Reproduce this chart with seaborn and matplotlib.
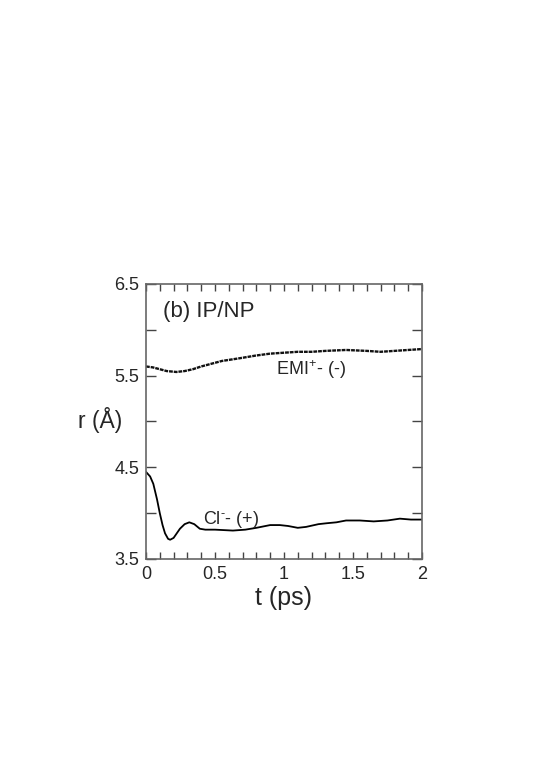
import matplotlib
matplotlib.use("Agg")
import matplotlib.pyplot as plt
import seaborn as sns
import pandas as pd
from matplotlib.ticker import MultipleLocator, FixedLocator

# ---- data ----
cl_t = [0, 0.03, 0.053, 0.08, 0.10, 0.12, 0.138, 0.16, 0.175, 0.20, 0.246, 0.28,
        0.314, 0.35, 0.39, 0.43, 0.5, 0.63, 0.72, 0.80, 0.90, 0.97, 1.03, 1.10,
        1.16, 1.25, 1.31, 1.38, 1.45, 1.55, 1.65, 1.75, 1.84, 1.92, 2.0]
cl_r = [4.45, 4.40, 4.32, 4.15, 4.00, 3.87, 3.78, 3.72, 3.71, 3.73, 3.83, 3.88,
        3.90, 3.88, 3.83, 3.82, 3.82, 3.81, 3.82, 3.84, 3.87, 3.87, 3.86, 3.84,
        3.85, 3.88, 3.89, 3.90, 3.92, 3.92, 3.91, 3.92, 3.94, 3.93, 3.93]

emi_t = [0, 0.05, 0.10, 0.15, 0.22, 0.28, 0.34, 0.40, 0.45, 0.55, 0.68, 0.80,
         0.90, 1.0, 1.1, 1.2, 1.3, 1.45, 1.6, 1.7, 1.8, 1.9, 2.0]
emi_r = [5.60, 5.59, 5.57, 5.55, 5.54, 5.55, 5.57, 5.60, 5.62, 5.66, 5.69, 5.72,
         5.74, 5.75, 5.76, 5.76, 5.77, 5.78, 5.77, 5.76, 5.77, 5.78, 5.79]

x_ticks = [0, 0.5, 1, 1.5, 2]
x_labels = ["0", "0.5", "1", "1.5", "2"]
y_ticks = [3.5, 4.5, 5.5, 6.5]
y_labels = ["3.5", "4.5", "5.5", "6.5"]

panel_label = "(b) IP/NP"
emi_label = "EMI$^{+}$- (-)"
cl_label = "Cl$^{\\text{-}}$- (+)"

sns.set_theme(style="white")
plt.rcParams["font.family"] = ["Liberation Sans", "DejaVu Sans"]
plt.rcParams["mathtext.fontset"] = "custom"
plt.rcParams["mathtext.rm"] = "Liberation Sans"
plt.rcParams["mathtext.it"] = "Liberation Sans"

fig = plt.figure(figsize=(5.53, 7.84), dpi=100)
ax = fig.add_axes([0.264, 0.287, 0.499, 0.3508])

df_cl = pd.DataFrame({"t": cl_t, "r": cl_r})
df_emi = pd.DataFrame({"t": emi_t, "r": emi_r})

sns.lineplot(data=df_cl, x="t", y="r", ax=ax, color="black", linewidth=1.3)
sns.lineplot(data=df_emi, x="t", y="r", ax=ax, color="#111111", linewidth=1.7,
             linestyle=(0, (1.6, 0.4)))

ax.set_xlim(0, 2)
ax.set_ylim(3.5, 6.5)
ax.set_xticks(x_ticks)
ax.set_xticklabels(x_labels, fontsize=13)
ax.set_yticks(y_ticks)
ax.set_yticklabels(y_labels, fontsize=13)
ax.xaxis.set_minor_locator(MultipleLocator(0.1))
ax.yaxis.set_minor_locator(FixedLocator([4.0, 5.0, 6.0]))
ax.tick_params(which="both", direction="in", top=True, right=True,
               bottom=True, left=True, color="#444444")
ax.tick_params(which="major", length=7, width=1, pad=5)
ax.tick_params(which="minor", length=7, width=1)
ax.tick_params(axis="x", which="both", length=5)
for s in ax.spines.values():
    s.set_color("#666666")
    s.set_linewidth(1.2)

ax.set_xlabel("t (ps)", fontsize=18, labelpad=2)
ax.set_ylabel("r (Å)", fontsize=16.5, rotation=0, ha="right", va="center")
ax.yaxis.set_label_coords(-0.087, 0.505)

ax.text(0.06, 0.90, panel_label, transform=ax.transAxes, fontsize=16,
        va="center", ha="left")
ax.text(0.47, 0.69, emi_label, transform=ax.transAxes, fontsize=13,
        va="center", ha="left")
ax.text(0.205, 0.145, cl_label, transform=ax.transAxes, fontsize=13,
        va="center", ha="left")

fig.savefig("out.png", dpi=100)
